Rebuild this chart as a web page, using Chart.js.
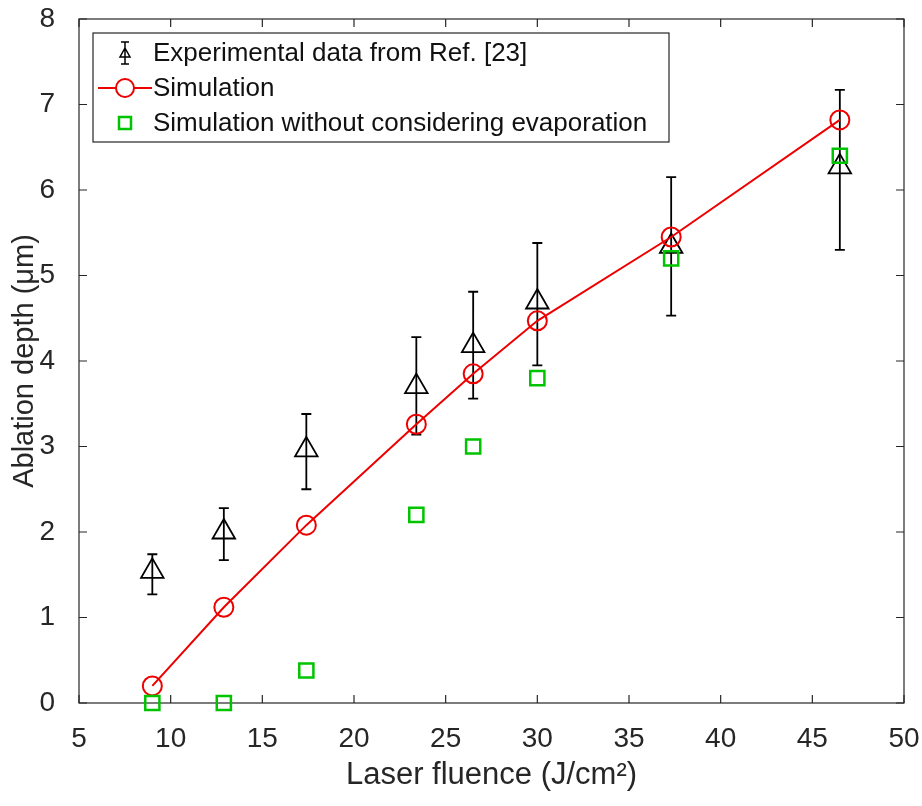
<!DOCTYPE html>
<html>
<head>
<meta charset="utf-8">
<script src="https://cdn.jsdelivr.net/npm/chart.js@4.4.0/dist/chart.umd.min.js"></script>
<style>
	html, body { margin: 0; padding: 0; background: #fff; }
	#wrap { width: 922px; height: 806px; }
</style>
</head>
<body>
<div id="wrap"><canvas id="main-chart" width="922" height="806"></canvas></div>
<script>
// values
var fluence = [9.0, 12.9, 17.4, 23.4, 26.5, 30.0, 37.3, 46.5];
var expDepth = [1.54, 2.00, 2.96, 3.70, 4.18, 4.69, 5.34, 6.27];
var expUpper = [1.74, 2.28, 3.38, 4.28, 4.81, 5.38, 6.15, 7.17];
var expLower = [1.27, 1.67, 2.50, 3.14, 3.56, 3.95, 4.53, 5.30];
var simDepth = [0.20, 1.12, 2.08, 3.26, 3.85, 4.47, 5.45, 6.82];
var simNoEvap = [0.00, 0.00, 0.38, 2.20, 3.00, 3.80, 5.20, 6.40];

var xTicks = [5, 10, 15, 20, 25, 30, 35, 40, 45, 50];
var yTicks = [0, 1, 2, 3, 4, 5, 6, 7, 8];

var seriesNames = [
	'Experimental data from Ref. [23]',
	'Simulation',
	'Simulation without considering evaporation'
];

var textColor = '#262626';
var red = '#ee0000';
var green = '#00c400';
var font = 'Liberation Sans, Arial, Helvetica, sans-serif';

function pts(ys) {
	return fluence.map(function (x, i) { return { x: x, y: ys[i] }; });
}

// error bars, axes box, inward ticks and the boxed legend
var decorations = {
	id: 'decorations',
	beforeDatasetsDraw(chart) {
		var ctx = chart.ctx, xs = chart.scales.x, ys = chart.scales.y;
		var a = chart.chartArea;
		ctx.save();
		// box and ticks
		ctx.strokeStyle = textColor;
		ctx.lineWidth = 1.2;
		ctx.strokeRect(a.left, a.top, a.right - a.left, a.bottom - a.top);
		ctx.beginPath();
		xTicks.forEach(function (v) {
			var px = xs.getPixelForValue(v);
			ctx.moveTo(px, a.bottom); ctx.lineTo(px, a.bottom - 8);
			ctx.moveTo(px, a.top); ctx.lineTo(px, a.top + 8);
		});
		yTicks.forEach(function (v) {
			var py = ys.getPixelForValue(v);
			ctx.moveTo(a.left, py); ctx.lineTo(a.left + 8, py);
			ctx.moveTo(a.right, py); ctx.lineTo(a.right - 8, py);
		});
		ctx.stroke();
		// error bars
		ctx.strokeStyle = '#000';
		ctx.lineWidth = 1.8;
		ctx.beginPath();
		fluence.forEach(function (f, i) {
			var px = xs.getPixelForValue(f);
			var top = ys.getPixelForValue(expUpper[i]);
			var bot = ys.getPixelForValue(expLower[i]);
			ctx.moveTo(px, top); ctx.lineTo(px, bot);
			ctx.moveTo(px - 5, top); ctx.lineTo(px + 5, top);
			ctx.moveTo(px - 5, bot); ctx.lineTo(px + 5, bot);
		});
		ctx.stroke();
		ctx.restore();
	},
	afterDatasetsDraw(chart) {
		var ctx = chart.ctx;
		var bx = 93, by = 33, bw = 576, bh = 109;
		ctx.save();
		ctx.fillStyle = '#fff';
		ctx.fillRect(bx, by, bw, bh);
		ctx.strokeStyle = textColor;
		ctx.lineWidth = 1.2;
		ctx.strokeRect(bx, by, bw, bh);

		var sx = 125, rows = [53, 88, 123];
		// row 1: triangle with error bar
		ctx.strokeStyle = '#000';
		ctx.lineWidth = 1.5;
		ctx.beginPath();
		ctx.moveTo(sx, rows[0] - 11); ctx.lineTo(sx, rows[0] + 11);
		ctx.moveTo(sx - 4, rows[0] - 11); ctx.lineTo(sx + 4, rows[0] - 11);
		ctx.moveTo(sx - 4, rows[0] + 11); ctx.lineTo(sx + 4, rows[0] + 11);
		ctx.moveTo(sx, rows[0] - 5); ctx.lineTo(sx + 5, rows[0] + 4); ctx.lineTo(sx - 5, rows[0] + 4); ctx.closePath();
		ctx.stroke();
		// row 2: line with circle
		ctx.strokeStyle = red;
		ctx.lineWidth = 2;
		ctx.beginPath();
		ctx.moveTo(98, rows[1]); ctx.lineTo(sx - 9, rows[1]);
		ctx.moveTo(sx + 9, rows[1]); ctx.lineTo(152, rows[1]);
		ctx.stroke();
		ctx.beginPath();
		ctx.arc(sx, rows[1], 9, 0, Math.PI * 2);
		ctx.stroke();
		// row 3: square
		ctx.strokeStyle = green;
		ctx.lineWidth = 2.5;
		ctx.strokeRect(sx - 6, rows[2] - 6, 12, 12);

		ctx.fillStyle = '#111';
		ctx.font = '26px ' + font;
		ctx.textBaseline = 'middle';
		seriesNames.forEach(function (name, i) {
			ctx.fillText(name, 153, rows[i] + 1);
		});
		ctx.restore();
	}
};

var ctx = document.getElementById('main-chart');
var chart = new Chart(ctx, {
	type: 'scatter',
	data: {
		datasets: [
			{
				label: seriesNames[2],
				data: pts(simNoEvap),
				showLine: false,
				pointStyle: 'rect',
				pointRadius: 10,
				pointHoverRadius: 10,
				pointBorderWidth: 2.5,
				borderColor: green,
				backgroundColor: 'rgba(0,0,0,0)',
				clip: false,
				order: 0
			},
			{
				label: seriesNames[1],
				data: pts(simDepth),
				showLine: true,
				borderColor: red,
				borderWidth: 2,
				pointStyle: 'circle',
				pointRadius: 9.5,
				pointHoverRadius: 9.5,
				pointBorderWidth: 2,
				pointBorderColor: red,
				pointBackgroundColor: 'rgba(0,0,0,0)',
				backgroundColor: 'rgba(0,0,0,0)',
				clip: false,
				order: 1
			},
			{
				label: seriesNames[0],
				data: pts(expDepth),
				showLine: false,
				pointStyle: 'triangle',
				pointRadius: 13,
				pointHoverRadius: 13,
				pointBorderWidth: 1.8,
				borderColor: '#000',
				backgroundColor: 'rgba(0,0,0,0)',
				clip: false,
				order: 2
			}
		]
	},
	options: {
		responsive: false,
		animation: false,
		layout: { padding: { top: 19, right: 18, left: 0, bottom: 0 } },
		plugins: {
			legend: { display: false },
			tooltip: { enabled: false }
		},
		scales: {
			x: {
				type: 'linear',
				min: 5, max: 50,
				afterFit: function (s) { s.height = 103; s.paddingLeft = 0; s.paddingRight = 0; },
				afterBuildTicks: function (s) { s.ticks = xTicks.map(function (v) { return { value: v }; }); },
				grid: { display: false },
				border: { display: false },
				ticks: { color: textColor, font: { family: font, size: 28 }, padding: 11, maxRotation: 0, autoSkip: false },
				title: {
					display: true,
					text: 'Laser fluence (J/cm²)',
					color: textColor,
					font: { family: font, size: 31 },
					padding: { top: 0, bottom: 12 }
				}
			},
			y: {
				type: 'linear',
				min: 0, max: 8,
				afterFit: function (s) { s.width = 79; s.paddingTop = 0; s.paddingBottom = 0; },
				afterBuildTicks: function (s) { s.ticks = yTicks.map(function (v) { return { value: v }; }); },
				grid: { display: false },
				border: { display: false },
				ticks: { color: textColor, font: { family: font, size: 28 }, padding: 16, autoSkip: false },
				title: {
					display: true,
					text: 'Ablation depth (μm)',
					color: textColor,
					font: { family: font, size: 29 },
					padding: { top: 8, bottom: 0 }
				}
			}
		}
	},
	plugins: [decorations]
});
</script>
</body>
</html>
